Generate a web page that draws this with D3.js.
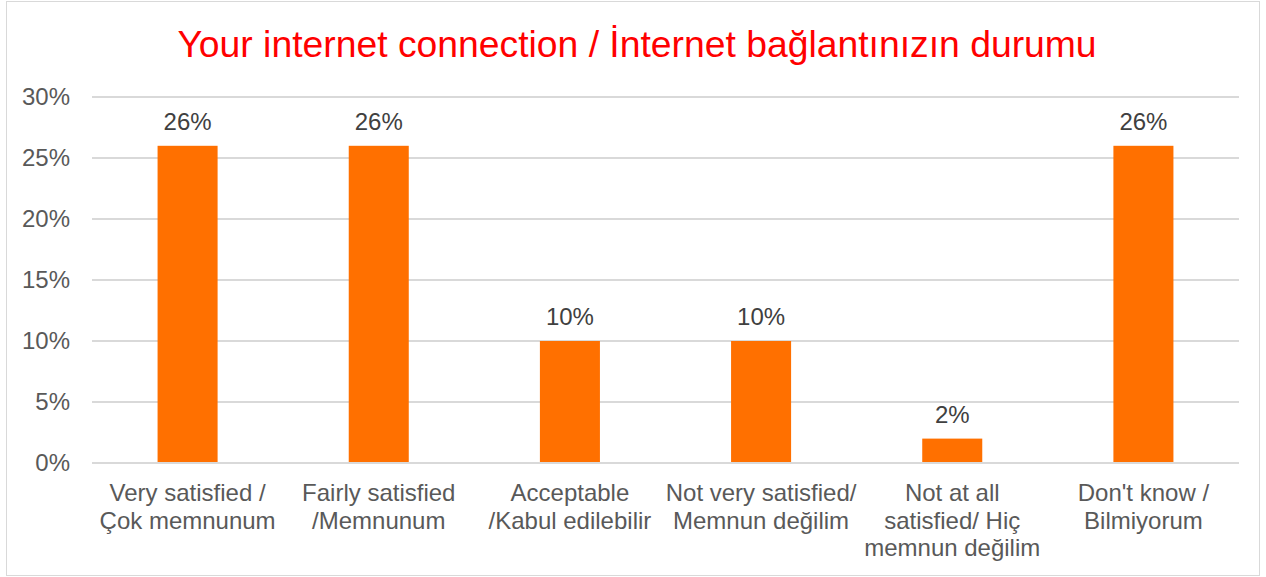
<!DOCTYPE html>
<html>
<head>
<meta charset="utf-8">
<script src="https://cdn.jsdelivr.net/npm/d3@7"></script>
<style>
  body { margin: 0; background: #fff; }
  svg { font-family: "Liberation Sans", Arial, sans-serif; }
</style>
</head>
<body>
<div id="chart"></div>
<script>
const title = "Your internet connection / İnternet bağlantınızın durumu";
const categories = [
  ["Very satisfied /", "Çok memnunum"],
  ["Fairly satisfied", "/Memnunum"],
  ["Acceptable", "/Kabul edilebilir"],
  ["Not very satisfied/", "Memnun değilim"],
  ["Not at all", "satisfied/ Hiç", "memnun değilim"],
  ["Don't know /", "Bilmiyorum"]
];
const values = [0.26, 0.26, 0.10, 0.10, 0.02, 0.26];
const yTicks = [0, 0.05, 0.10, 0.15, 0.20, 0.25, 0.30];

const width = 1266, height = 577;
const margin = {top: 97, right: 27, bottom: 114, left: 92};

const svg = d3.select("#chart").append("svg")
  .attr("width", width)
  .attr("height", height);

svg.append("rect")
  .attr("x", 6.5).attr("y", 1.5)
  .attr("width", 1253).attr("height", 574)
  .attr("fill", "#fff")
  .attr("stroke", "#d9d9d9");

svg.append("text")
  .attr("x", 637).attr("y", 57)
  .attr("text-anchor", "middle")
  .attr("fill", "#ff0000")
  .attr("font-size", 37.3)
  .text(title);

const x = d3.scaleBand()
  .domain(d3.range(categories.length))
  .range([margin.left, width - margin.right])
  .padding(0);

const y = d3.scaleLinear()
  .domain([0, 0.30])
  .range([height - margin.bottom, margin.top]);

const g = svg.append("g");

// gridlines
g.selectAll("line.grid")
  .data(yTicks)
  .enter().append("line")
  .attr("class", "grid")
  .attr("x1", margin.left)
  .attr("x2", width - margin.right)
  .attr("y1", d => y(d))
  .attr("y2", d => y(d))
  .attr("stroke", "#d9d9d9")
  .attr("stroke-width", 2);

// y labels
g.selectAll("text.ytick")
  .data(yTicks)
  .enter().append("text")
  .attr("class", "ytick")
  .attr("x", 70)
  .attr("y", d => y(d))
  .attr("dy", "0.35em")
  .attr("text-anchor", "end")
  .attr("fill", "#595959")
  .attr("font-size", 24)
  .text(d => d3.format(".0%")(d));

const barW = x.bandwidth() * 0.314;

g.selectAll("rect.bar")
  .data(values)
  .enter().append("rect")
  .attr("class", "bar")
  .attr("x", (d, i) => x(i) + x.bandwidth() / 2 - barW / 2)
  .attr("y", d => y(d))
  .attr("width", barW)
  .attr("height", d => y(0) - y(d) - 1)
  .attr("fill", "#ff7000");

g.selectAll("text.val")
  .data(values)
  .enter().append("text")
  .attr("class", "val")
  .attr("x", (d, i) => x(i) + x.bandwidth() / 2)
  .attr("y", d => y(d) - 16)
  .attr("text-anchor", "middle")
  .attr("fill", "#404040")
  .attr("font-size", 24)
  .text(d => d3.format(".0%")(d));

const cat = g.selectAll("text.cat")
  .data(categories)
  .enter().append("text")
  .attr("class", "cat")
  .attr("text-anchor", "middle")
  .attr("fill", "#595959")
  .attr("font-size", 24);

cat.selectAll("tspan")
  .data((d, i) => d.map(line => ({line, i})))
  .enter().append("tspan")
  .attr("x", d => x(d.i) + x.bandwidth() / 2)
  .attr("y", (d, j) => 501 + j * 27.5)
  .text(d => d.line);
</script>
</body>
</html>
